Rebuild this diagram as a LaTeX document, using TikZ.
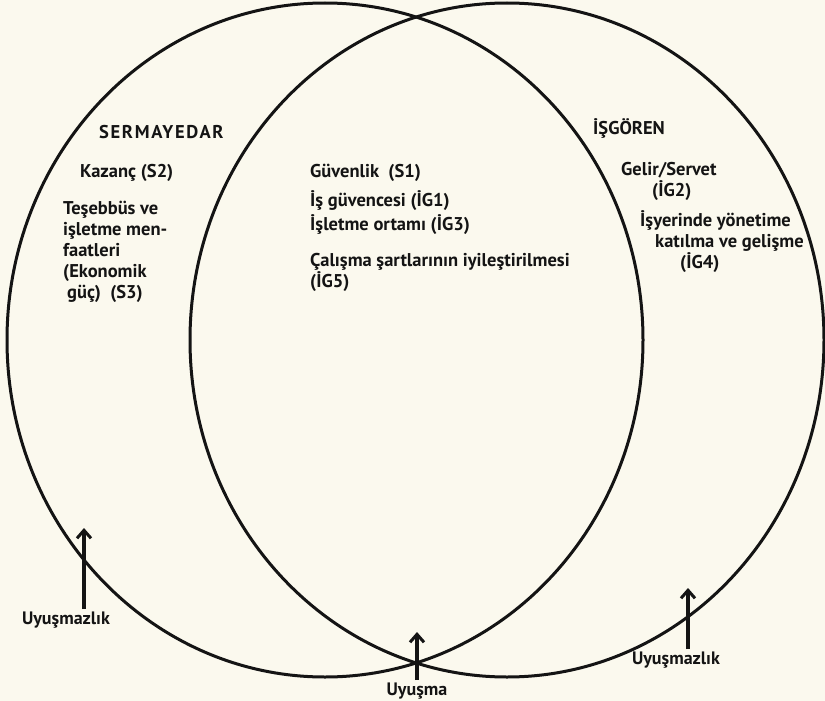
\documentclass[tikz,border=0pt]{standalone}
\usepackage{fontspec}
\setmainfont{PT Sans}
\usetikzlibrary{arrows.meta,shapes.geometric}
\definecolor{paper}{HTML}{FBF9EE}
\definecolor{ink}{HTML}{141414}
\begin{document}
\begin{tikzpicture}[x=1pt,y=-1pt,
  ring/.style={draw=ink,line width=3pt,ellipse,inner sep=0pt},
  lbl/.style={anchor=base west,inner sep=0pt,text=ink,font=\fontsize{18.5}{21}\selectfont\bfseries},
  foot/.style={anchor=north,inner sep=0pt,text=ink,font=\fontsize{18}{21}\selectfont\bfseries},
  agree/.style={draw=ink,line width=3.2pt,-{Straight Barb[length=8pt,width=14pt,line width=3pt]}},
]
\fill[paper] (0,0) rectangle (825,701);
\useasboundingbox (0,0) rectangle (825,701);
% the two sets
\node[ring,minimum width=636pt,minimum height=674pt] (sermaye) at (325,340) {};
\node[ring,minimum width=634pt,minimum height=674pt] (isgoren) at (507,340) {};
% left set
\node[lbl] (s0) at (99,139) {\addfontfeature{LetterSpace=9}SERMAYEDAR};
\node[lbl] (s2) at (80,177) {Kazanç (S2)};
\node[lbl] (s3a) at (63,214) {Teşebbüs ve};
\node[lbl] (s3b) at (63,235) {işletme men-};
\node[lbl] (s3c) at (63,256) {faatleri};
\node[lbl] (s3d) at (63,277) {(Ekonomik};
\node[lbl] (s3e) at (67,298) {güç)\ \ (S3)};
% common part
\node[lbl] (c1) at (310,177) {Güvenlik\ \ (S1)};
\node[lbl] (c2) at (310,206) {İş güvencesi (İG1)};
\node[lbl] (c3) at (310,230) {İşletme ortamı (İG3)};
\node[lbl] (c4) at (310,266) {Çalışma şartlarının iyileştirilmesi};
\node[lbl] (c5) at (310,287) {(İG5)};
% right set
\node[lbl] (g0) at (593,134) {İŞGÖREN};
\node[lbl] (g2a) at (621,175) {Gelir/Servet};
\node[lbl] (g2b) at (652,196) {(İG2)};
\node[lbl] (g4a) at (640,226) {İşyerinde yönetime};
\node[lbl] (g4b) at (655,247) {katılma ve gelişme};
\node[lbl] (g4c) at (680,268) {(İG4)};
% bottom labels and arrows
\node[foot] (u1) at (66,612) {Uyuşmazlık};
\node[foot] (u2) at (417,683) {Uyuşma};
\node[foot] (u3) at (676,652) {Uyuşmazlık};
\coordinate (t1) at (84,528);
\coordinate (t2) at (417,632);
\coordinate (t3) at (688,588);
\draw[agree] ([yshift=3pt]u1.north -| t1) -- (t1);
\draw[agree] ([yshift=3pt]u2.north -| t2) -- (t2);
\draw[agree] ([yshift=3pt]u3.north -| t3) -- (t3);
\end{tikzpicture}
\end{document}
